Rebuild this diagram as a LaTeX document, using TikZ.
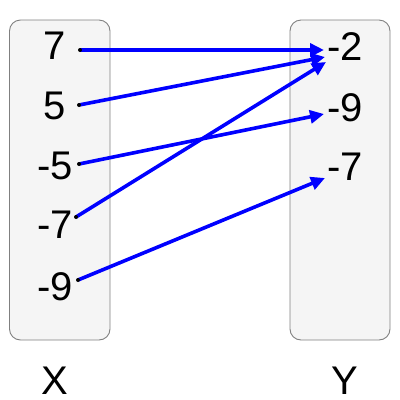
\documentclass[tikz,border=0pt]{standalone}
\usepackage{fontspec}
\setmainfont{Liberation Sans}
\usetikzlibrary{arrows.meta}
\begin{document}
\begin{tikzpicture}[x=1pt,y=-1pt,
  setbox/.style={draw=black!50,fill=black!4,line width=0.9pt,rounded corners=11pt},
  val/.style={inner sep=0pt,font=\fontsize{40}{40}\selectfont},
  mapar/.style={draw=blue,line width=3.6pt,-{Triangle[length=14pt,width=13pt]}},
  dotmark/.style={fill=black,draw=none}]
\useasboundingbox (0,0) rectangle (400,400);
\draw[setbox] (9.5,20) rectangle (110,340);
\draw[setbox] (290,20) rectangle (390,340);
\node[val] (x1) at (55,46) {7};
\node[val] (x2) at (55,106) {5};
\node[val] (x3) at (55,166) {-5};
\node[val] (x4) at (55,225) {-7};
\node[val] (x5) at (55,287) {-9};
\node[val] (y1) at (345,47) {-2};
\node[val] (y2) at (345,108) {-9};
\node[val] (y3) at (345,167) {-7};
\node[val] (lx) at (55,381) {X};
\node[val] (ly) at (345,381) {Y};
\coordinate (s1) at (80,50);
\coordinate (s2) at (79,105);
\coordinate (s3) at (79,164);
\coordinate (s4) at (76,217);
\coordinate (s5) at (78,280);
\coordinate (e1) at (324,50);
\coordinate (e2) at (325,57);
\coordinate (e3) at (324,114);
\coordinate (e4) at (326,62);
\coordinate (e5) at (325,178);
\draw[mapar] (s1) -- (e1);
\draw[mapar] (s2) -- (e2);
\draw[mapar] (s3) -- (e3);
\draw[mapar] (s4) -- (e4);
\draw[mapar] (s5) -- (e5);
\foreach \p in {s1,s2,s3,s4,s5} \fill[dotmark] (\p) circle (2pt);
\end{tikzpicture}
\end{document}
